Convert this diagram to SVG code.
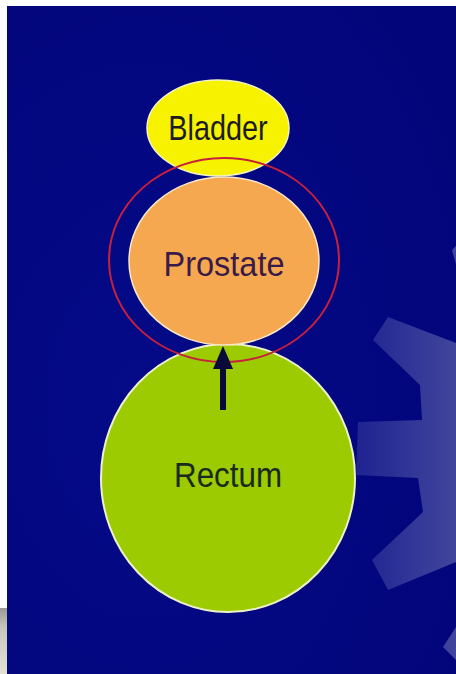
<svg xmlns="http://www.w3.org/2000/svg" width="456" height="674" viewBox="0 0 456 674">
<defs>
<linearGradient id="gearGrad" x1="350" y1="0" x2="456" y2="0" gradientUnits="userSpaceOnUse">
<stop offset="0" stop-color="#1c2190"/>
<stop offset="1" stop-color="#41459c"/>
</linearGradient>
<linearGradient id="greyGrad" x1="0" y1="608" x2="0" y2="674" gradientUnits="userSpaceOnUse">
<stop offset="0" stop-color="#9a9a94"/>
<stop offset="0.3" stop-color="#c8c6bc"/>
<stop offset="1" stop-color="#e4e0d4"/>
</linearGradient>
<radialGradient id="bgGrad" cx="0.3" cy="0.6" r="0.8">
<stop offset="0" stop-color="#050a88"/>
<stop offset="1" stop-color="#02057a"/>
</radialGradient>
<style>
.lbl { font-family: "Liberation Sans", Arial, sans-serif; text-anchor: middle; }
</style>
</defs>
<rect x="0" y="0" width="456" height="674" fill="#ffffff"/>
<rect x="0" y="608" width="7" height="66" fill="url(#greyGrad)"/>
<rect x="7" y="6" width="449" height="668" fill="url(#bgGrad)"/>
<g id="gear" fill="url(#gearGrad)">
<path d="M456,343 L388,317 L373,340 L420,385 L422,420 L358,422 L356,475 L418,478 L423,512 L372,560 L388,590 L456,562 Z"/>
<path d="M456,627 L443,647 L456,660 Z"/>
<path d="M452,250 L456,246 L456,264 Z"/>
</g>
<g id="bladder">
<ellipse cx="218" cy="128" rx="71" ry="48" fill="#f7f300" stroke="#f4f4c0" stroke-width="1.5"/>
<text class="lbl" x="0" y="0" font-size="28" fill="#1c1c20" transform="translate(218,140) scale(1.03,1.25)">Bladder</text>
</g>
<g id="rectum">
<ellipse cx="228" cy="478" rx="127" ry="134" fill="#9bcb00" stroke="#eef0c8" stroke-width="2"/>
<text class="lbl" x="0" y="0" font-size="28" fill="#1a2a20" transform="translate(228,487) scale(1.12,1.22)">Rectum</text>
</g>
<g id="prostate">
<ellipse cx="224" cy="261" rx="95" ry="84" fill="#f6a850" stroke="#f8e8c8" stroke-width="1.5"/>
<text class="lbl" x="0" y="0" font-size="28" fill="#3a1a48" transform="translate(224,276) scale(1.16,1.22)">Prostate</text>
</g>
<g id="highlight">
<ellipse cx="224" cy="260" rx="115" ry="102" fill="none" stroke="#c8203c" stroke-width="2"/>
</g>
<g id="connectors">
<line x1="223" y1="410" x2="223" y2="368" stroke="#0a0a3a" stroke-width="6"/>
<path d="M223,346 L213,369 L233,369 Z" fill="#0a0a3a"/>
</g>
</svg>
